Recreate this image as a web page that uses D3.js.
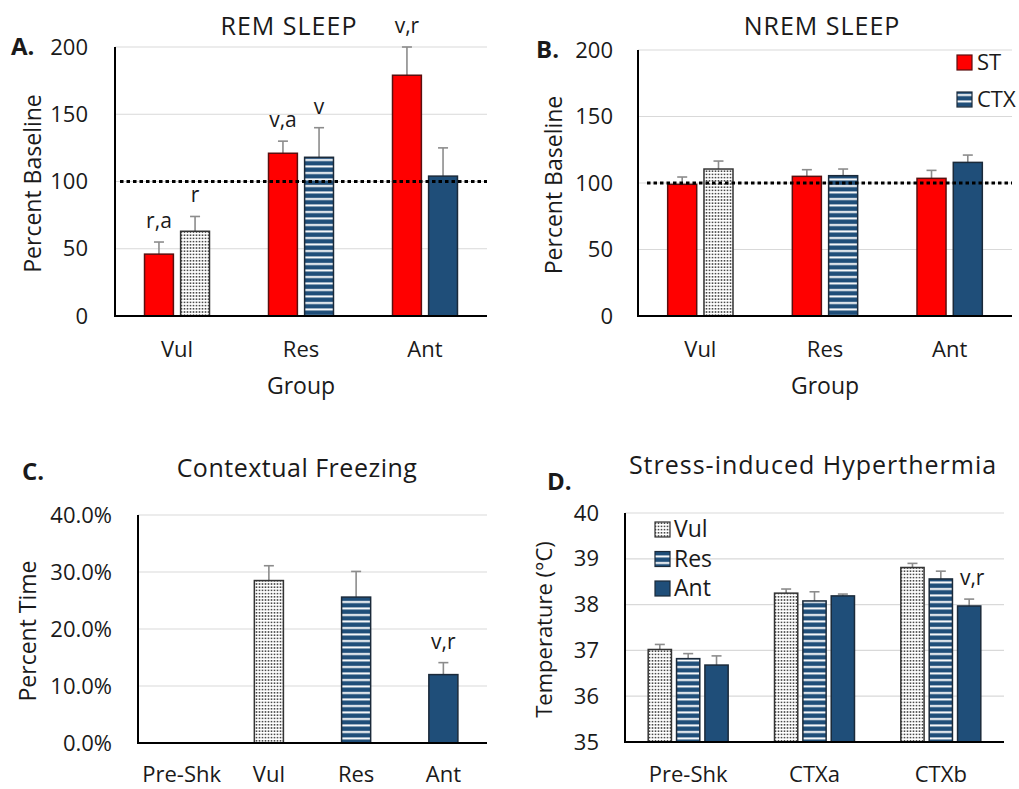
<!DOCTYPE html>
<html><head><meta charset="utf-8">
<script src="https://cdn.jsdelivr.net/npm/d3@7"></script>
<style>
html,body{margin:0;padding:0;background:#fff;}
svg text{font-family:"Open Sans","Noto Sans",sans-serif;fill:#1a1a1a;}
</style></head>
<body>
<svg id="chart" width="1019" height="789"></svg>
<script>
// ---------- DATA ----------
const sleepGroups = ["Vul", "Res", "Ant"];
const sleepSeries = ["ST", "CTX"];
const remST = [46, 121, 179];
const remSTErr = [9, 9, 21];
const remCTX = [63, 118, 104];
const remCTXErr = [11, 22, 21];
const remSTLabels = ["r,a", "v,a", "v,r"];
const remCTXLabels = ["r", "v", ""];
const nremST = [99, 105, 103.5];
const nremSTErr = [5.5, 5, 6];
const nremCTX = [110.5, 105.5, 115.5];
const nremCTXErr = [6, 5, 5.5];
const sleepTicks = [0, 50, 100, 150, 200];

const freezeGroups = ["Pre-Shk", "Vul", "Res", "Ant"];
const freezeVals = [0, 0.285, 0.256, 0.12];
const freezeErr = [0, 0.026, 0.045, 0.021];
const freezeLabels = ["", "", "", "v,r"];
const freezeTicks = [0, 0.1, 0.2, 0.3, 0.4];

const tempPhases = ["Pre-Shk", "CTXa", "CTXb"];
const tempSeries = ["Vul", "Res", "Ant"];
const tempVul = [37.02, 38.25, 38.81];
const tempVulErr = [0.11, 0.09, 0.09];
const tempRes = [36.82, 38.08, 38.56];
const tempResErr = [0.11, 0.2, 0.17];
const tempAnt = [36.68, 38.19, 37.97];
const tempAntErr = [0.2, 0.04, 0.15];
const tempAntLabels = ["", "", "v,r"];
const tempTicks = [35, 36, 37, 38, 39, 40];

// ---------- STYLE ----------
const RED = "#ff0000", NAVY = "#1f4e79";
const FONT = '"Open Sans","Noto Sans",sans-serif';
const svg = d3.select("#chart");
const defs = svg.append("defs");
// stripes
const ps = defs.append("pattern").attr("id", "stripes").attr("patternUnits", "userSpaceOnUse")
  .attr("width", 10).attr("height", 6.5);
ps.append("rect").attr("width", 10).attr("height", 6.5).attr("fill", NAVY);
ps.append("rect").attr("y", 3).attr("width", 10).attr("height", 2).attr("fill", "#ffffff");
// dots
const pd = defs.append("pattern").attr("id", "dots").attr("patternUnits", "userSpaceOnUse")
  .attr("width", 3).attr("height", 3.2);
pd.append("rect").attr("width", 3).attr("height", 3.2).attr("fill", "#ffffff");
pd.append("rect").attr("x", 0.7).attr("y", 0.8).attr("width", 1.6).attr("height", 1.6).attr("fill", "#4a4a4a");

const groupFill = {Vul: "url(#dots)", Res: "url(#stripes)", Ant: NAVY, ST: RED};
const strokeFor = f => f === RED ? "#5a1010" : (f === "url(#dots)" ? "#333" : "#1b2a3a");

function panel(opt) {
  const g = svg.append("g");
  const y = d3.scaleLinear().domain(opt.yDomain).range([opt.bottom, opt.top]);
  const x0 = d3.scaleBand().domain(opt.groups).range([opt.left, opt.right])
    .paddingInner(opt.pad).paddingOuter(opt.pad / 2 + 0.0001);
  const x1 = d3.scaleBand().domain(opt.series).range([0, x0.bandwidth()]).paddingInner(opt.inner);

  // gridlines
  g.append("g").selectAll("line").data(opt.ticks.slice(1)).join("line")
    .attr("x1", opt.left).attr("x2", opt.right)
    .attr("y1", d => y(d)).attr("y2", d => y(d))
    .attr("stroke", "#d9d9d9").attr("stroke-width", 1.2);

  // y tick labels
  const yAxis = d3.axisLeft(y).tickValues(opt.ticks).tickSize(0).tickPadding(0).tickFormat(opt.fmt);
  const ya = g.append("g").attr("transform", `translate(${opt.tickX},0)`).call(yAxis);
  ya.select(".domain").remove();
  ya.selectAll("text").attr("font-size", 22).attr("fill", "#1a1a1a").style("font-family", FONT);

  // bars
  const cells = [];
  opt.groups.forEach((grp, i) => {
    opt.series.forEach((s, j) => {
      cells.push({grp, s, v: opt.values[j][i], e: opt.errors[j][i], lab: opt.labels[j][i],
        fill: opt.fill(grp, s)});
    });
  });
  const bars = cells.filter(c => c.v > opt.yDomain[0]);
  const bx = c => x0(c.grp) + x1(c.s);
  const bw = x1.bandwidth();

  // error bars
  const eb = g.append("g");
  eb.selectAll("line.v").data(bars.filter(c => c.e > 0)).join("line")
    .attr("x1", c => bx(c) + bw / 2).attr("x2", c => bx(c) + bw / 2)
    .attr("y1", c => y(c.v)).attr("y2", c => y(c.v + c.e))
    .attr("stroke", "#8c8c8c").attr("stroke-width", 1.6);
  eb.selectAll("line.c").data(bars.filter(c => c.e > 0)).join("line")
    .attr("x1", c => bx(c) + bw / 2 - 5).attr("x2", c => bx(c) + bw / 2 + 5)
    .attr("y1", c => y(c.v + c.e)).attr("y2", c => y(c.v + c.e))
    .attr("stroke", "#8c8c8c").attr("stroke-width", 1.6);

  g.append("g").selectAll("rect").data(bars).join("rect")
    .attr("x", bx).attr("width", bw)
    .attr("y", c => y(c.v)).attr("height", c => y(opt.yDomain[0]) - y(c.v))
    .attr("fill", c => c.fill).attr("stroke", c => strokeFor(c.fill)).attr("stroke-width", 1.5);

  // significance labels
  g.append("g").selectAll("text").data(cells.filter(c => c.lab)).join("text")
    .attr("x", c => bx(c) + bw / 2 + (opt.labDx || 0)).attr("y", c => y(c.v + c.e) - (opt.labOff || 14))
    .attr("text-anchor", "middle").attr("font-size", 21).text(c => c.lab);

  // reference line
  if (opt.refLine !== undefined) {
    g.append("line").attr("x1", opt.refStart).attr("x2", opt.right)
      .attr("y1", y(opt.refLine)).attr("y2", y(opt.refLine))
      .attr("stroke", "#000").attr("stroke-width", 3.2).attr("stroke-dasharray", "3.5,3");
  }

  // axes lines
  g.append("line").attr("x1", opt.left).attr("x2", opt.left).attr("y1", opt.top).attr("y2", opt.bottom + 1)
    .attr("stroke", "#000").attr("stroke-width", 2);
  g.append("line").attr("x1", opt.left - 1).attr("x2", opt.right).attr("y1", opt.bottom).attr("y2", opt.bottom)
    .attr("stroke", "#000").attr("stroke-width", 2);

  // category labels
  const xAxis = d3.axisBottom(x0).tickSize(0).tickPadding(0);
  const xa = g.append("g").attr("transform", `translate(0,${opt.catY})`).call(xAxis);
  xa.select(".domain").remove();
  xa.selectAll("text").attr("font-size", 22).attr("fill", "#1a1a1a").attr("dy", 0).style("font-family", FONT);

  // titles and axis labels
  g.append("text").attr("x", opt.titleX).attr("y", opt.titleY).attr("text-anchor", "middle")
    .attr("font-size", opt.titleSize || 25).attr("letter-spacing", opt.titleLS || 0).text(opt.title);
  g.append("text").attr("x", opt.letterX).attr("y", opt.letterY).attr("font-size", 24)
    .attr("font-weight", "bold").text(opt.letter);
  g.append("text").attr("transform", `translate(${opt.yLabX},${(opt.top + opt.bottom) / 2 + 2}) rotate(-90)`)
    .attr("text-anchor", "middle").attr("dominant-baseline", "central")
    .attr("font-size", opt.yLabSize || 23).text(opt.yLabel);
  if (opt.xLabel) {
    g.append("text").attr("x", (opt.left + opt.right) / 2).attr("y", opt.xLabY).attr("text-anchor", "middle")
      .attr("font-size", 23).text(opt.xLabel);
  }
  return g;
}

const sleepFill = (grp, s) => s === "ST" ? RED : groupFill[grp];

// A
panel({groups: sleepGroups, series: sleepSeries, values: [remST, remCTX], errors: [remSTErr, remCTXErr],
  labels: [remSTLabels, remCTXLabels], fill: sleepFill,
  yDomain: [0, 200], ticks: sleepTicks, fmt: d3.format("d"),
  left: 115, right: 487, top: 47, bottom: 316, pad: 0.476, inner: 0.2,
  tickX: 88, refLine: 100, refStart: 120, catY: 357,
  title: "REM SLEEP", titleX: 289, titleY: 35, titleLS: 1,
  letter: "A.", letterX: 11, letterY: 55,
  yLabel: "Percent Baseline", yLabX: 32, xLabel: "Group", xLabY: 394});

// B
const gB = panel({groups: sleepGroups, series: sleepSeries, values: [nremST, nremCTX], errors: [nremSTErr, nremCTXErr],
  labels: [["", "", ""], ["", "", ""]], fill: sleepFill,
  yDomain: [0, 200], ticks: sleepTicks, fmt: d3.format("d"),
  left: 638, right: 1012, top: 50, bottom: 316, pad: 0.476, inner: 0.2,
  tickX: 613, refLine: 100, refStart: 647, catY: 357,
  title: "NREM SLEEP", titleX: 822, titleY: 35, titleLS: 1,
  letter: "B.", letterX: 536, letterY: 58,
  yLabel: "Percent Baseline", yLabX: 553, xLabel: "Group", xLabY: 394});

// legend B
const legB = gB.append("g");
const legBItems = sleepSeries.map((s, i) => ({s, fill: s === "ST" ? RED : "url(#stripes)", i}));
legB.selectAll("rect").data(legBItems).join("rect")
  .attr("x", 957).attr("y", d => 55 + d.i * 37).attr("width", 15).attr("height", 15)
  .attr("fill", d => d.fill).attr("stroke", d => strokeFor(d.fill)).attr("stroke-width", 1.2);
legB.selectAll("text").data(legBItems).join("text")
  .attr("x", 977).attr("y", d => 70 + d.i * 37).attr("font-size", 22).text(d => d.s);

// C
panel({groups: freezeGroups, series: ["v"], values: [freezeVals], errors: [freezeErr],
  labels: [freezeLabels], fill: (grp) => groupFill[grp],
  yDomain: [0, 0.4], ticks: freezeTicks, fmt: d3.format(".1%"),
  left: 138, right: 487, top: 515, bottom: 743, pad: 0.667, inner: 0,
  tickX: 112, catY: 782,
  title: "Contextual Freezing", titleX: 297, titleY: 477, titleLS: 0.5,
  letter: "C.", letterX: 22, letterY: 480,
  yLabel: "Percent Time", yLabX: 27});

// D
const gD = panel({groups: tempPhases, series: tempSeries, values: [tempVul, tempRes, tempAnt],
  errors: [tempVulErr, tempResErr, tempAntErr], labels: [["", "", ""], ["", "", ""], tempAntLabels],
  fill: (grp, s) => groupFill[s], labDx: 3,
  yDomain: [35, 40], ticks: tempTicks, fmt: d3.format("d"),
  left: 625, right: 1004, top: 513, bottom: 742, pad: 0.367, inner: 0.18,
  tickX: 599, catY: 782,
  title: "Stress-induced Hyperthermia", titleX: 813, titleY: 474, titleLS: 1,
  letter: "D.", letterX: 547, letterY: 490,
  yLabel: "Temperature (°C)", yLabX: 543, yLabSize: 22});

// legend D
const legD = gD.append("g");
const legDItems = tempSeries.map((s, i) => ({s, fill: groupFill[s], i}));
legD.selectAll("rect").data(legDItems).join("rect")
  .attr("x", 655).attr("y", d => 522 + d.i * 29.5).attr("width", 15).attr("height", 15)
  .attr("fill", d => d.fill).attr("stroke", d => strokeFor(d.fill)).attr("stroke-width", 1.2);
legD.selectAll("text").data(legDItems).join("text")
  .attr("x", 674).attr("y", d => 537 + d.i * 29.5).attr("font-size", 23).text(d => d.s);
</script>
</body></html>
